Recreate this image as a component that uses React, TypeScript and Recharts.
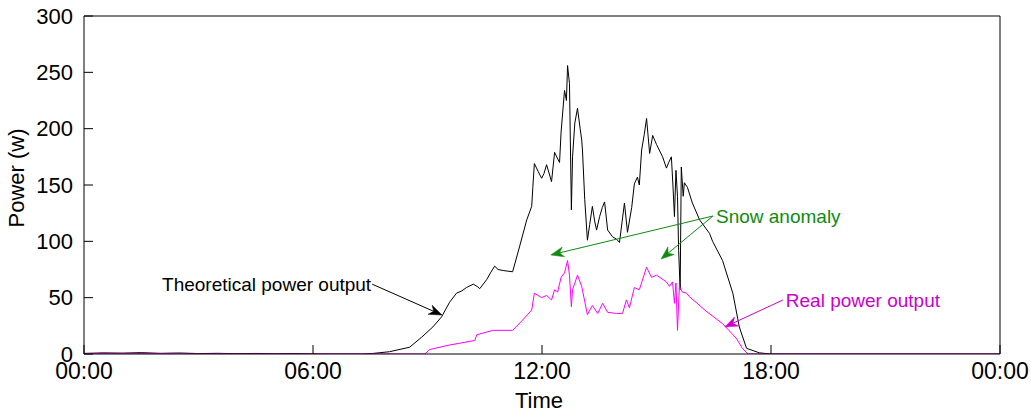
import React from 'react';
import { LineChart, Line, XAxis, YAxis, ReferenceLine } from 'recharts';

// Time in hours of day, power in W
const theoTimes = [0, 0.5, 1, 1.5, 2, 2.5, 3, 3.5, 4, 4.5, 5, 5.5, 6, 6.3, 7.3, 7.57, 8, 8.53, 8.85, 9.14, 9.37, 9.58, 9.76, 9.9, 10.02, 10.2, 10.3, 10.37, 10.55, 10.65, 10.76, 10.85, 11.0, 11.23, 11.41, 11.6, 11.73, 11.76, 11.8, 11.9, 11.99, 12.05, 12.12, 12.25, 12.33, 12.4, 12.46, 12.5, 12.59, 12.64, 12.67, 12.72, 12.77, 12.8, 12.86, 12.93, 13.0, 13.04, 13.06, 13.12, 13.19, 13.25, 13.32, 13.38, 13.43, 13.51, 13.58, 13.64, 13.72, 13.85, 13.95, 14.03, 14.16, 14.24, 14.35, 14.42, 14.5, 14.55, 14.61, 14.68, 14.74, 14.82, 14.9, 15.0, 15.16, 15.26, 15.32, 15.39, 15.43, 15.47, 15.51, 15.55, 15.58, 15.62, 15.65, 15.7, 15.73, 15.81, 15.94, 16.13, 16.39, 16.47, 16.73, 17.0, 17.17, 17.36, 17.7, 18.0, 24];
const theoValues = [0.5, 1, 0.8, 1.2, 0.6, 0.9, 0.4, 0.6, 0.3, 0.5, 0.2, 0.4, 0.1, 0, 0, 0.5, 2, 6, 15, 24, 33, 46, 54, 56, 59, 62, 60, 58, 66, 72, 78, 75, 74, 73, 95, 119, 131, 148, 169, 162, 156, 160, 168, 153, 179, 174, 170, 197, 234, 225, 256, 240, 128, 175, 205, 218, 200, 190, 181, 137, 101, 115, 131, 118, 110, 122, 130, 135, 110, 104, 102, 99, 134, 108, 130, 151, 157, 150, 181, 195, 209, 178, 194, 186, 175, 165, 170, 175, 150, 122, 163, 140, 92, 57, 166, 140, 152, 148, 134, 119, 107, 100, 83, 54, 24, 5, 1, 0, 0];

const realTimes = [0, 1, 2, 2.7, 8.93, 9.06, 9.58, 10.24, 10.29, 10.71, 11.23, 11.49, 11.73, 11.8, 11.99, 12.12, 12.25, 12.33, 12.41, 12.5, 12.59, 12.67, 12.72, 12.77, 12.8, 12.93, 13.04, 13.19, 13.32, 13.46, 13.59, 13.72, 13.95, 14.11, 14.21, 14.29, 14.42, 14.55, 14.74, 14.87, 15.0, 15.26, 15.34, 15.42, 15.47, 15.51, 15.55, 15.6, 15.68, 15.79, 15.86, 16.3, 16.73, 17.09, 17.25, 17.4, 24];
const realValues = [0.5, 0.3, 0.4, 0, 0, 4, 8, 12, 17, 21, 21, 30, 39, 54, 50, 52, 48, 57, 55, 68, 72, 83, 70, 42, 57, 70, 60, 35, 43, 36, 45, 37, 36, 36, 48, 41, 59, 57, 77, 68, 70, 64, 60, 64, 45, 63, 21, 60, 55, 54, 51, 38, 27, 14, 5, 0, 0];

const xTicks = [0, 6, 12, 18, 24];
const xTickLabels = ['00:00', '06:00', '12:00', '18:00', '00:00'];
const yTicks = [0, 50, 100, 150, 200, 250, 300];

// annotation anchors [startT, startV, endT, endV]
const theoArrow = [7.55, 62, 9.38, 34.6];
const snowArrow1 = [16.48, 122.5, 12.23, 87.9];
const snowArrow2 = [16.48, 122.5, 15.12, 84.3];
const realArrow = [18.31, 47.9, 16.79, 24];

const theoData = theoTimes.map((t, i) => ({ t, v: theoValues[i] }));
const realData = realTimes.map((t, i) => ({ t, v: realValues[i] }));

const FONT = '"Liberation Sans", Arial, sans-serif';

const arrowShape = (label: string, color: string, anchor: 'start' | 'end') => (props: any) => {
  const { x1, y1, x2, y2 } = props;
  if ([x1, y1, x2, y2].some((v) => typeof v !== 'number' || isNaN(v))) return <g />;
  const dx = x2 - x1;
  const dy = y2 - y1;
  const len = Math.hypot(dx, dy) || 1;
  const ux = dx / len;
  const uy = dy / len;
  const L = 13;
  const W = 5;
  const bx = x2 - ux * L;
  const by = y2 - uy * L;
  const nx = -uy;
  const ny = ux;
  const notchX = x2 - ux * L * 0.7;
  const notchY = y2 - uy * L * 0.7;
  const pts = `${x2},${y2} ${bx + nx * W},${by + ny * W} ${notchX},${notchY} ${bx - nx * W},${by - ny * W}`;
  return (
    <g>
      <line x1={x1} y1={y1} x2={notchX} y2={notchY} stroke={color} strokeWidth={1} />
      <polygon points={pts} fill={color} stroke={color} strokeWidth={0.5} />
      {label ? (
        <text
          x={anchor === 'end' ? x1 - 1 : x1 + 3}
          y={y1 + 7}
          textAnchor={anchor}
          fill={color}
          fontSize={19}
          fontFamily={FONT}
        >
          {label}
        </text>
      ) : null}
    </g>
  );
};

const seg = (a: number[]) => [
  { x: a[0], y: a[1] },
  { x: a[2], y: a[3] },
];

export default function App() {
  return (
    <div style={{ position: 'absolute', left: 0, top: 0, width: 1031, height: 412, background: '#fff' }}>
      <LineChart width={1031} height={412} margin={{ top: 15, right: 0, bottom: 0, left: 0 }}>
        <XAxis
          xAxisId="b"
          type="number"
          dataKey="t"
          domain={[0, 24]}
          ticks={xTicks}
          tickFormatter={(v: number) => xTickLabels[xTicks.indexOf(v)] ?? ''}
          orientation="bottom"
          height={58}
          axisLine={{ stroke: '#000' }}
          tickLine={{ stroke: '#000' }}
          tickSize={-9}
          tickMargin={18}
          tick={{ fill: '#000', fontSize: 23, fontFamily: FONT }}
          interval={0}
          allowDataOverflow
          label={{
            content: (p: any) => (
              <text
                x={p.viewBox.x + p.viewBox.width / 2 - 3}
                y={408}
                textAnchor="middle"
                fontSize={22}
                fontFamily={FONT}
                fill="#000"
              >
                Time
              </text>
            ),
          }}
        />
        <XAxis
          xAxisId="top"
          type="number"
          domain={[0, 24]}
          ticks={xTicks}
          orientation="top"
          height={1}
          axisLine={{ stroke: '#000' }}
          tickLine={{ stroke: '#000' }}
          tickSize={-9}
          tick={false}
          interval={0}
          allowDataOverflow
        />
        <YAxis
          yAxisId="l"
          type="number"
          domain={[0, 300]}
          ticks={yTicks}
          orientation="left"
          width={84}
          axisLine={{ stroke: '#000' }}
          tickLine={{ stroke: '#000' }}
          tickSize={-9}
          tickMargin={20}
          tick={{ fill: '#000', fontSize: 22, fontFamily: FONT }}
          interval={0}
          allowDataOverflow
          label={{
            content: () => (
              <text
                x={0}
                y={0}
                transform="translate(24,178) rotate(-90)"
                textAnchor="middle"
                fontSize={22}
                fontFamily={FONT}
                fill="#000"
              >
                Power (w)
              </text>
            ),
          }}
        />
        <YAxis
          yAxisId="r"
          type="number"
          domain={[0, 300]}
          ticks={yTicks}
          orientation="right"
          width={31}
          axisLine={{ stroke: '#000' }}
          tickLine={{ stroke: '#000' }}
          tickSize={-9}
          tick={false}
          interval={0}
          allowDataOverflow
        />
        <Line
          xAxisId="b"
          yAxisId="l"
          data={theoData}
          dataKey="v"
          type="linear"
          stroke="#000"
          strokeWidth={1}
          dot={false}
          activeDot={false}
          isAnimationActive={false}
        />
        <Line
          xAxisId="b"
          yAxisId="l"
          data={realData}
          dataKey="v"
          type="linear"
          stroke="#ff00ff"
          strokeWidth={1}
          dot={false}
          activeDot={false}
          isAnimationActive={false}
        />
        <ReferenceLine
          xAxisId="b"
          yAxisId="l"
          segment={seg(theoArrow)}
          shape={arrowShape('Theoretical power output', '#000', 'end')}
          ifOverflow="visible"
        />
        <ReferenceLine
          xAxisId="b"
          yAxisId="l"
          segment={seg(snowArrow1)}
          shape={arrowShape('Snow anomaly', '#108a10', 'start')}
          ifOverflow="visible"
        />
        <ReferenceLine
          xAxisId="b"
          yAxisId="l"
          segment={seg(snowArrow2)}
          shape={arrowShape('', '#108a10', 'start')}
          ifOverflow="visible"
        />
        <ReferenceLine
          xAxisId="b"
          yAxisId="l"
          segment={seg(realArrow)}
          shape={arrowShape('Real power output', '#cc00cc', 'start')}
          ifOverflow="visible"
        />
      </LineChart>
    </div>
  );
}
